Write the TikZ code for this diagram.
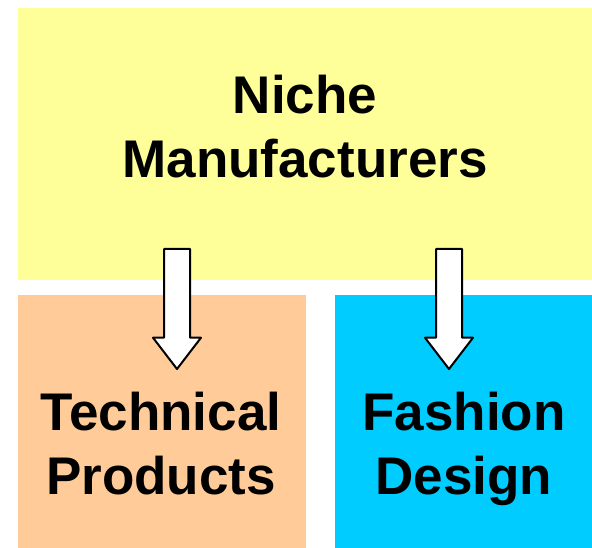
\documentclass[tikz,border=0pt]{standalone}
\usepackage{fontspec}
\setmainfont{Liberation Sans}
\usetikzlibrary{shapes.arrows, positioning}
\definecolor{paleyellow}{HTML}{FFFF99}
\definecolor{paleorange}{HTML}{FFCC99}
\definecolor{skyblue}{HTML}{00CCFF}
\tikzstyle{panel} = [rectangle, draw=none, inner sep=0pt]
\tikzstyle{caption} = [align=center, inner sep=0pt, font=\fontsize{53}{64}\selectfont\bfseries]
\tikzstyle{downarrow} = [single arrow, draw=black, fill=white, line width=2pt, line join=round, inner xsep=0pt, inner ysep=12pt, outer sep=0pt, minimum width=46pt, minimum height=120pt, single arrow head extend=11pt, single arrow tip angle=75, rotate=-90, anchor=tip]

\begin{document}
\begin{tikzpicture}[x=1pt, y=-1pt]
    \useasboundingbox (0,0) rectangle (592,548);

        % Panels
        \node (niche) [panel, fill=paleyellow, minimum width=574pt, minimum height=272pt] at (305,144) {};
        \node (technical) [panel, fill=paleorange, minimum width=288pt, minimum height=253pt] at (162,421.5) {};
        \node (fashion) [panel, fill=skyblue, minimum width=257pt, minimum height=253pt] at (463.5,421.5) {};

        % Captions
        \node (nichetext) [caption] at (305,126.4) {Niche\\Manufacturers};
        \node (technicaltext) [caption] at (161,443.7) {Technical\\Products};
        \node (fashiontext) [caption] at (464,449) {Fashion\\Design};

        % Arrows
        \node (leftarrow) [downarrow] at (177,369) {};
        \node (rightarrow) [downarrow] at (449,369) {};

    \end{tikzpicture}
\end{document}
